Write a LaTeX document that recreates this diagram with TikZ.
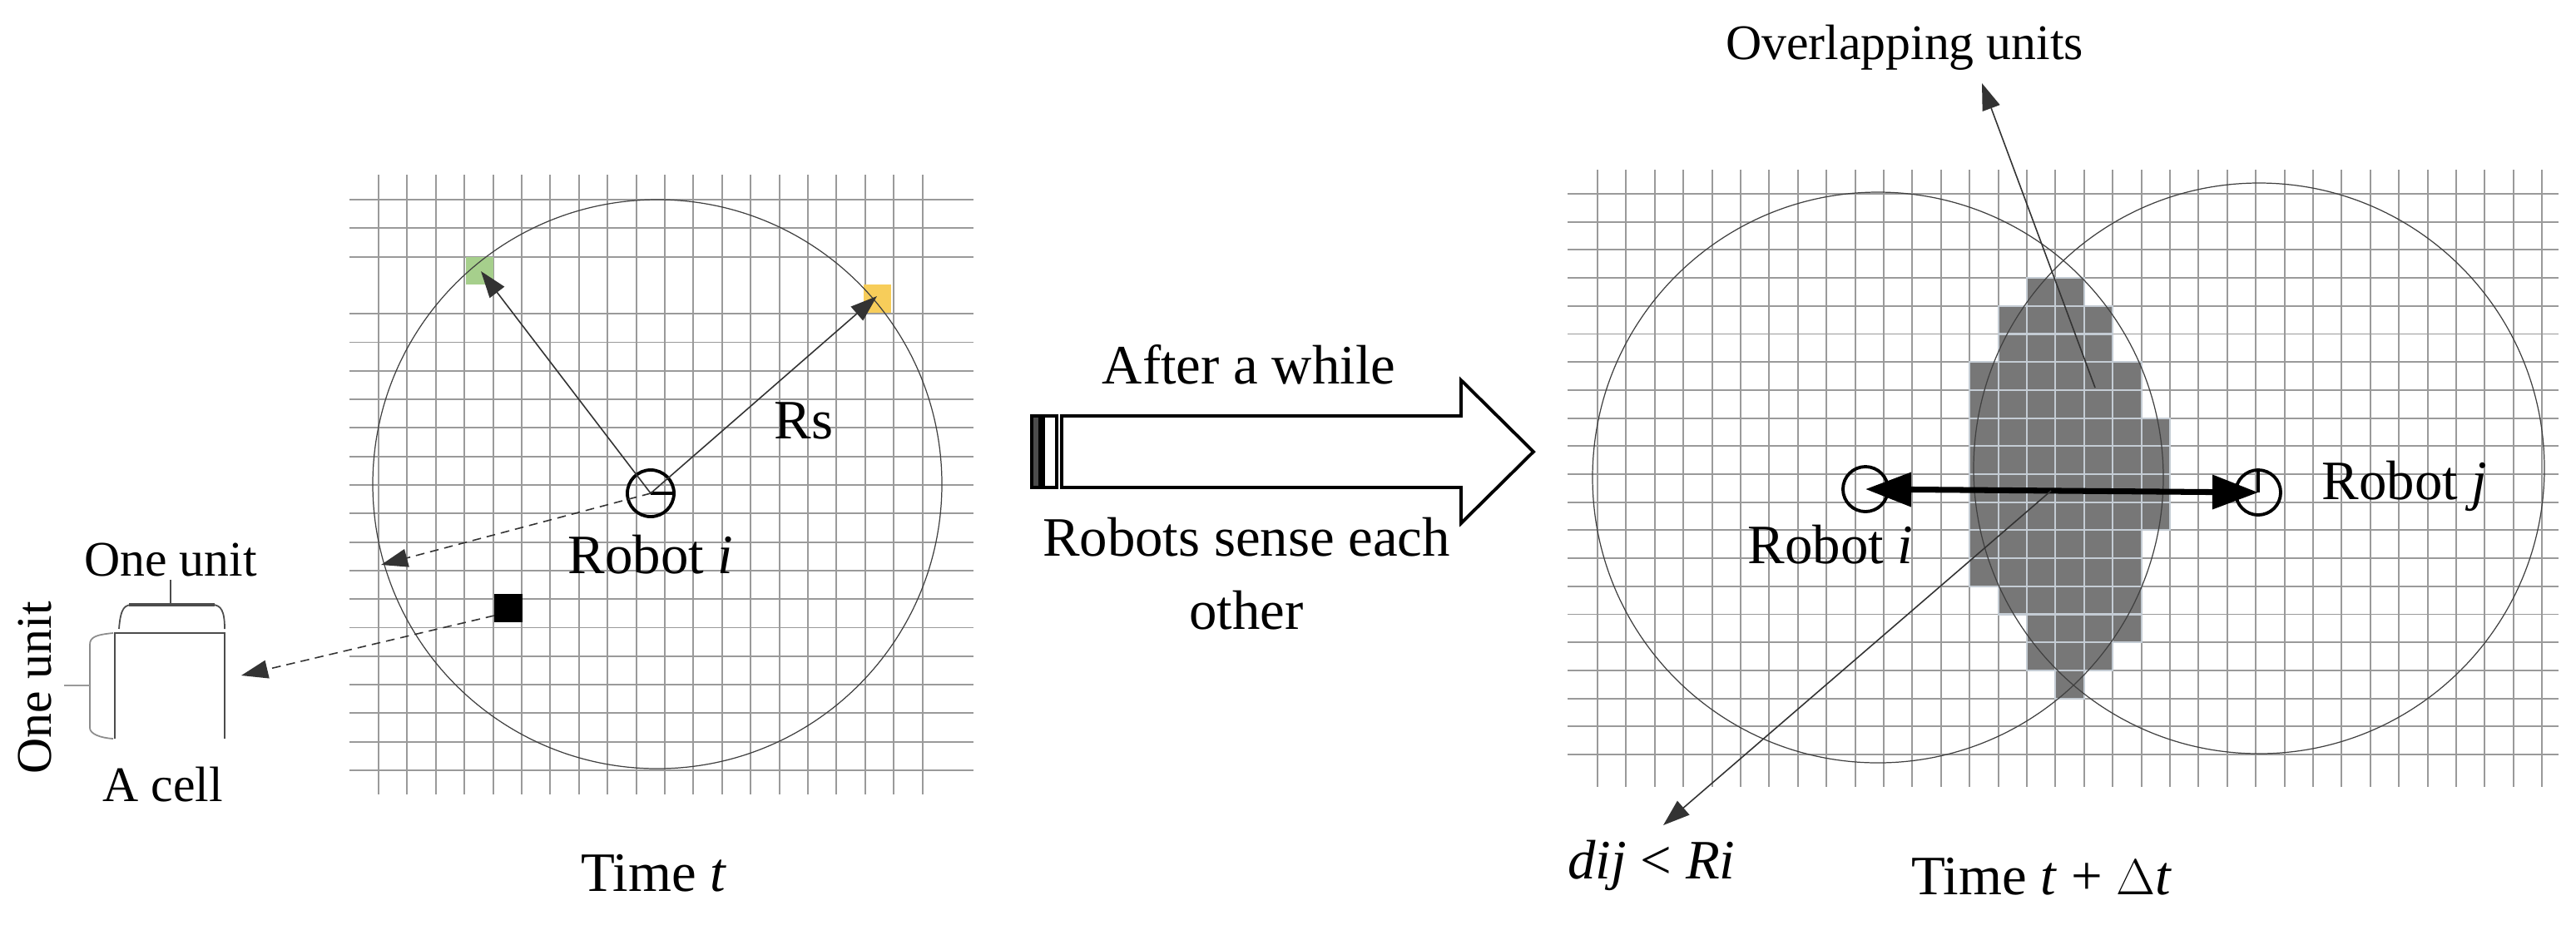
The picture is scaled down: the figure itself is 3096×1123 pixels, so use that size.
\documentclass[tikz,border=0pt]{standalone}
\usepackage{fontspec}
\setmainfont{Liberation Serif}
\usetikzlibrary{arrows.meta}
\definecolor{gridc}{HTML}{9A9A9A}
\definecolor{cellc}{HTML}{777777}
\definecolor{celle}{HTML}{C4CCD4}
\definecolor{greenc}{HTML}{A6CF8C}
\definecolor{yellowc}{HTML}{F7CD5A}
\tikzset{
  gridline/.style={draw=gridc,line width=0.55pt},
  rangecirc/.style={draw=black!75,line width=0.35pt},
  robotc/.style={draw=black,line width=1.1pt,circle,minimum size=0.56cm,inner sep=0pt},
  thinarrow/.style={draw=black!80,line width=0.45pt,-{Triangle[length=0.32cm,width=0.22cm]}},
  lbl/.style={font=\fontsize{19}{23}\selectfont,inner sep=0pt},
  slbl/.style={font=\fontsize{17}{20}\selectfont,inner sep=0pt},
  brace/.style={draw=black!70,line width=0.5pt},
}
\begin{document}
\begin{tikzpicture}[x=0.01cm,y=-0.01cm]
\useasboundingbox (0,0) rectangle (3096,1123);
% ---------- left grid ----------
\foreach \k in {0,...,19} \draw[gridline] ({455+34.4*\k},210) -- ({455+34.4*\k},955);
\foreach \k in {0,1,2,4,5,...,20} \draw[gridline] (420,{240+34.3*\k}) -- (1170,{240+34.3*\k});
\fill[greenc] (560,309) rectangle (593,342);
\fill[yellowc] (1038,342) rectangle (1071,376);
\fill[black] (594,714) rectangle (628,748);
\coordinate (green) at (578,326);
\coordinate (yellow) at (1054,356);
\coordinate (blk) at (594,740);
\coordinate (edgeL) at (458,679);
\draw[rangecirc] (790,582) circle (342);
\node[robotc] (ri) at (782,593) {};
\draw[line width=1.1pt] (ri.center) -- (ri.east);
\draw[thinarrow] (ri.center) -- (green);
\draw[thinarrow] (ri.center) -- (yellow);
\draw[thinarrow,densely dashed] (ri.center) -- (edgeL);
\node[lbl] (rs) at (966,506) {Rs};
\node[lbl] (rilab) at (782,667) {Robot \textit{i}};
\node[lbl] (timet) at (786,1050) {Time \textit{t}};
% ---------- a cell ----------
\coordinate (cellTL) at (138,761);
\coordinate (cellTR) at (270,761);
\draw[draw=black!70,line width=0.6pt] (138,888) -- (cellTL) -- (cellTR) -- (270,888);
\draw[brace] (143,756) .. controls (145,730) and (150,727) .. (160,727) -- (255,727) .. controls (266,727) and (270,735) .. (270,756);
\draw[brace,line width=1.1pt] (155,727) -- (258,727);
\draw[brace] (205,727) -- (205,697);
\draw[brace,draw=black!45] (136,761) .. controls (115,763) and (108,766) .. (108,775) -- (108,875) .. controls (108,882) and (120,887) .. (136,888);
\draw[brace,draw=black!40] (108,824) -- (77,824);
\node[slbl] (oneunit1) at (205,673) {One unit};
\node[slbl,rotate=90] (oneunit2) at (42,827) {One unit};
\node[slbl] (acell) at (196,943) {A cell};
\coordinate (celltip) at (290,812);
\draw[thinarrow,densely dashed] (blk) -- (celltip);
% ---------- big arrow ----------
\draw[line width=1.1pt,fill=white] (1276,500) -- (1756,500) -- (1756,457) -- (1843,543) -- (1756,629) -- (1756,586) -- (1276,586) -- cycle;
\draw[line width=1.1pt,fill=black!70] (1240,500) rectangle (1250,586);
\draw[line width=1.1pt] (1254,500) rectangle (1270,586);
\node[lbl] (after) at (1501,438) {After a while};
\node[lbl,align=center] (sense) at (1498,690) {Robots sense each\\[2pt]other};
% ---------- right grid ----------
\foreach \k in {0,...,33} \draw[gridline] ({1920+34.4*\k},204) -- ({1920+34.4*\k},946);
\foreach \k in {0,...,20} \draw[gridline] (1884,{233+33.7*\k}) -- (3075,{233+33.7*\k});
\foreach \r/\a/\b in {0/15/16,1/14/17,2/14/17,3/13/18,4/13/18,5/13/19,6/13/19,7/13/19,8/13/19,9/13/18,10/13/18,11/14/18,12/15/18,13/15/17,14/16/16}
  \foreach \c in {\a,...,\b}
    \filldraw[fill=cellc,draw=celle,line width=0.6pt] ({1920+34.4*\c},{233+33.7*(\r+3)}) rectangle ++(34.4,33.7);
\draw[rangecirc] (2257,574) circle (343);
\draw[rangecirc] (2715,563) circle (343);
\node[robotc,minimum size=0.54cm] (ri2) at (2242,588) {};
\node[robotc,minimum size=0.54cm] (rj) at (2714,592) {};
\draw[line width=1.1pt] (rj.center) -- (rj.north);
\draw[line width=2pt,{Triangle[length=0.55cm,width=0.4cm]}-{Triangle[length=0.55cm,width=0.4cm]}] (ri2.center) -- (rj.center);
\node[lbl] (ri2lab) at (2200,655) {Robot \textit{i}};
\node[lbl] (rjlab) at (2890,584) {Robot \textit{j}};
\coordinate (ovs) at (2518,466);
\coordinate (ovt) at (2382,100);
\draw[thinarrow] (ovs) -- (ovt);
\node[slbl] (overlap) at (2289,57) {Overlapping units};
\coordinate (ds) at (2465,590);
\coordinate (dt) at (1999,992);
\draw[thinarrow] (ds) -- (dt);
\node[lbl] (dij) at (1985,1040) {\textit{dij} < \textit{Ri}};
\node[lbl] (timedt) at (2454,1054) {Time \textit{t} + $\Delta$\textit{t}};
\end{tikzpicture}
\end{document}
